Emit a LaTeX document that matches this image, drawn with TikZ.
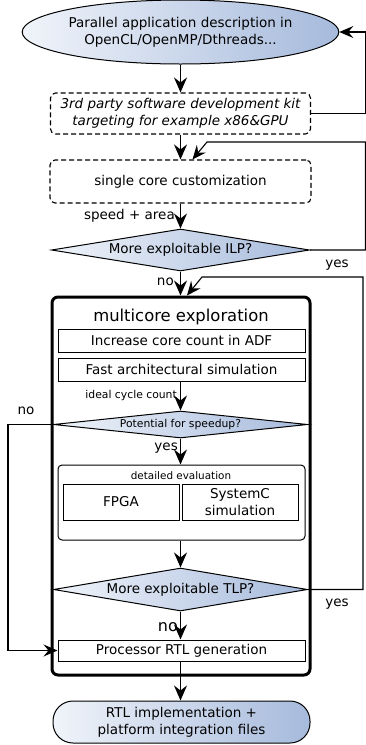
\documentclass[tikz,border=0pt]{standalone}
\usepackage{fontspec}
\setmainfont{DejaVu Sans}
\usetikzlibrary{shapes.geometric,arrows.meta,calc}
\definecolor{gl}{RGB}{240,244,250}
\definecolor{gr}{RGB}{166,186,220}
\begin{document}
\begin{tikzpicture}[x=1pt,y=-1pt,
  txt/.style={font=\fontsize{13.5}{17}\selectfont, align=center},
  small/.style={font=\fontsize{10.8}{13}\selectfont, align=center},
  grad/.style={left color=gl, right color=gr},
  ell/.style={ellipse, draw, line width=1pt, grad, txt, inner sep=0pt},
  dbox/.style={draw, dash pattern=on 5pt off 3pt, rounded corners=5pt, line width=1.1pt, txt, inner sep=0pt},
  box/.style={draw, line width=1pt, txt, inner sep=0pt, minimum width=247pt},
  dia/.style={diamond, draw, line width=1pt, grad, inner sep=0pt},
  arr/.style={-{Stealth[length=15pt,width=13pt,inset=5pt]}, line width=1.5pt},
  loop/.style={-{Stealth[length=14pt,width=12pt,inset=5pt]}, line width=1.1pt},
  lab/.style={txt, inner sep=0pt}]
\useasboundingbox (0,0) rectangle (365,745);

\node[ell, minimum width=262pt, minimum height=64pt] (app) at (180.5,32)
  {Parallel application description in\\OpenCL/OpenMP/Dthreads...};
\node[dbox, minimum width=260pt, minimum height=41pt, font=\fontsize{13.5}{17}\selectfont\itshape] (sdk) at (180.5,113.5)
  {3rd party software development kit\\targeting for example x86\&GPU};
\node[dbox, minimum width=261pt, minimum height=43pt] (single) at (180.5,181.5)
  {single core customization};
\node[dia, txt, minimum width=258pt, minimum height=42pt, aspect=6] (ilp) at (180.5,250)
  {More exploitable ILP?};

\node[draw, line width=3pt, rounded corners=6pt, minimum width=258pt, minimum height=378pt] (multi) at (181,486) {};
\node[inner sep=0pt, font=\fontsize{16.4}{19}\selectfont] (mtitle) at (181,317) {multicore exploration};
\node[box, minimum height=23pt] (inc) at (181.5,340.5) {Increase core count in ADF};
\node[box, minimum height=23pt] (fast) at (181.5,369.5) {Fast architectural simulation};
\node[dia, small, minimum width=254pt, minimum height=27pt, aspect=9.4] (pot) at (180.5,424.5)
  {Potential for speedup?};
\node[draw, line width=1pt, rounded corners=4pt, minimum width=247pt, minimum height=75pt] (det) at (181.5,502.5) {};
\node[small, inner sep=0pt, font=\fontsize{10.4}{13}\selectfont] (dtitle) at (181,476) {detailed evaluation};
\node[draw, line width=1pt, txt, inner sep=0pt, minimum width=116pt, minimum height=36pt] (fpga) at (121,502) {FPGA};
\node[draw, line width=1pt, txt, inner sep=0pt, minimum width=116pt, minimum height=36pt] (sysc) at (240,502) {SystemC\\simulation};
\node[dia, txt, minimum width=254pt, minimum height=43pt, aspect=6] (tlp) at (180.5,589.5)
  {More exploitable TLP?};
\node[box, minimum height=21pt] (proc) at (181.5,650.5) {Processor RTL generation};

\node[draw, line width=1pt, grad, txt, inner sep=0pt, rounded corners=20pt, minimum width=257pt, minimum height=42pt] (rtl) at (181.5,722)
  {RTL implementation +\\platform integration files};

% labels
\node[lab, anchor=east] (l1) at (175,216) {speed + area};
\node[lab, anchor=east] (l2) at (174,282) {no};
\node[lab] (l3) at (337,265) {yes};
\node[lab, small, anchor=east] (l4) at (177,396) {ideal cycle count};
\node[lab] (l5) at (26,411) {no};
\node[lab, anchor=east] (l6) at (178,448) {yes};
\node[lab] (l7) at (337,604) {yes};
\node[lab, anchor=east, font=\fontsize{16}{19}\selectfont] (l8) at (178,627) {no};

% connectors
\draw[arr] (app.south -| 180.5,0) -- (sdk.north -| 180.5,0);
\draw[loop] (sdk.east) -- (365.3,113.5) |- (app.east);
\draw[arr] (sdk.south -| 180.5,0) -- (single.north -| 180.5,0);
\draw[loop] (ilp.east) -- (365.3,250) |- (207,142) -- ($(single.north)+(12,0)$);
\draw[arr] (single.south -| 180.5,0) -- (ilp.north);
\draw[arr] (ilp.south) -- (multi.north -| 180.5,0);
\draw[loop] (tlp.east) -- (363,589.5) |- (202,277) -- ($(multi.north)+(6,0)$);
\draw[arr] (fast.south -| 180.5,0) -- (pot.north);
\draw[loop] (pot.west) -- (8,424.5) |- (proc.west);
\draw[arr] (pot.south) -- (det.north -| 180.5,0);
\draw[arr] (det.south -| 180.5,0) -- (tlp.north);
\draw[arr] (tlp.south) -- (proc.north -| 180.5,0);
\draw[arr] (proc.south -| 180.5,0) -- (rtl.north -| 180.5,0);
\end{tikzpicture}
\end{document}
